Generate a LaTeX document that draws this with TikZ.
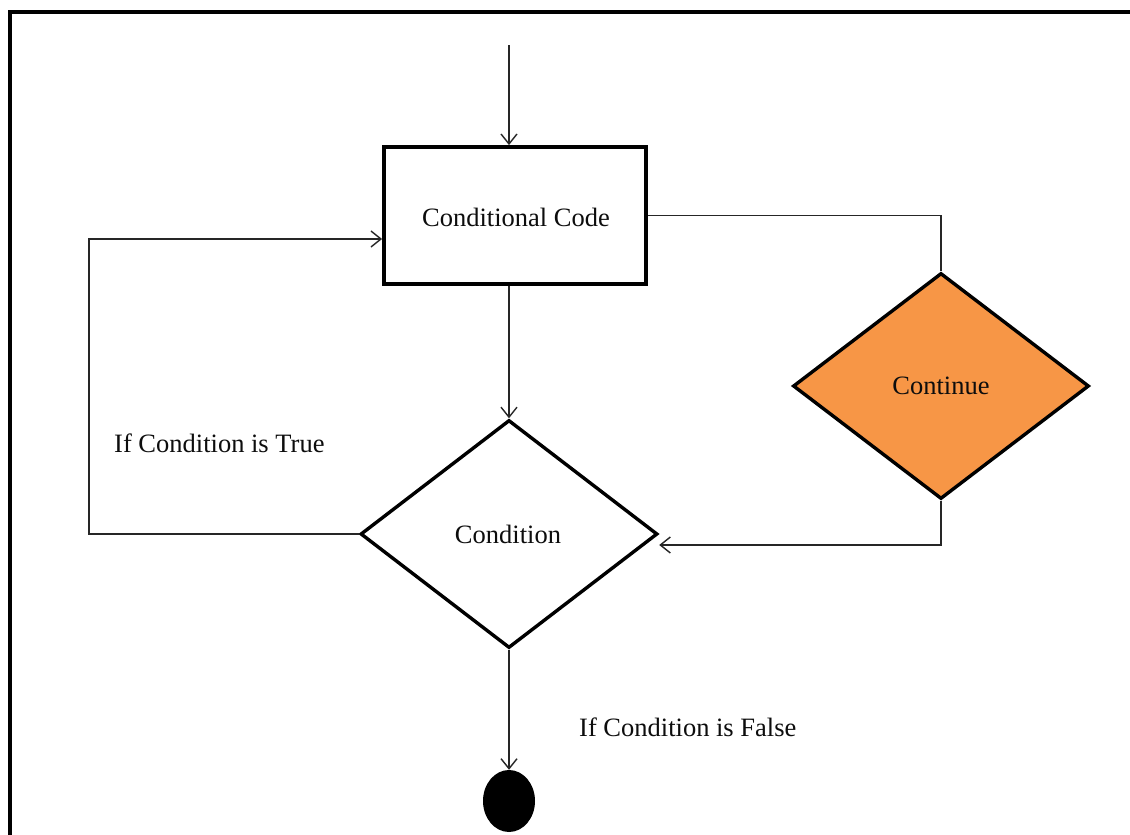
\documentclass[tikz,border=0pt]{standalone}
\usepackage{fontspec}
\setmainfont{Liberation Serif}
\usetikzlibrary{shapes.geometric,arrows.meta}
\definecolor{contorange}{HTML}{F79646}
\tikzset{
  flow/.style={line width=1.6pt, draw=black!85},
  arr/.style={flow, -{Straight Barb[length=10pt,width=16pt,line width=1.4pt]}},
  codebox/.style={draw, line width=3.8pt, rectangle, minimum width=262pt, minimum height=137pt, inner sep=0pt},
  decision/.style={draw, line width=3.4pt, diamond, inner sep=0pt},
  label/.style={font=\fontsize{26.5}{31}\selectfont, inner sep=0pt, text=black!95},
}
\begin{document}
\begin{tikzpicture}[x=1pt,y=-1pt]
  \useasboundingbox (0,0) rectangle (1130,835);
  \fill[white] (0,0) rectangle (1130,835);
  % outer frame (top and left edges)
  \draw[line width=4pt] (10,836) -- (10,12) -- (1131,12);

  % nodes
  \node[codebox] (code) at (515,215.5) {};
  \node[label] (codetxt) at (516,217) {Conditional Code};
  \node[decision, fill=white, minimum width=297pt, minimum height=228pt] (cond) at (509,534) {};
  \node[label] (condtxt) at (508,534) {Condition};
  \node[decision, fill=contorange, minimum width=296pt, minimum height=226pt] (cont) at (941,386) {};
  \node[label] (conttxt) at (941,386) {Continue};
  \node[ellipse, fill=black, minimum width=52pt, minimum height=62pt, inner sep=0pt] (stop) at (509,801) {};

  \node[label, anchor=west] (truelbl) at (114,443) {If Condition is True};
  \node[label, anchor=west] (falselbl) at (579,727) {If Condition is False};

  % connectors
  \coordinate (entry) at (509,45);
  \draw[arr] (entry) -- (entry |- code.north);
  \draw[arr] (cond.north |- code.south) -- (cond.north);
  \draw[flow] (code.east) -| (cont.north);
  \draw[arr] (cont.south) |- ([yshift=-11pt]cond.east);
  \coordinate (loopcorner) at (89,534);
  \draw[arr] (cond.west) -- (loopcorner) |- ([yshift=-23.5pt]code.west);
  \draw[arr] (cond.south) -- (stop.north);
\end{tikzpicture}
\end{document}
